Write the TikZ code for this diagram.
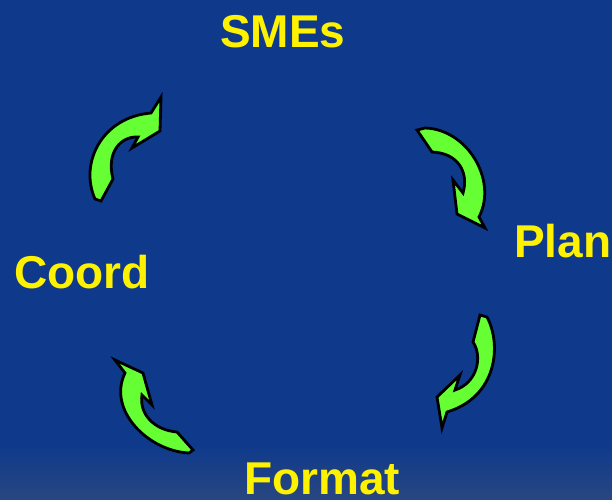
\documentclass[tikz,border=0pt]{standalone}
\usepackage{fontspec}
\setmainfont{Liberation Sans}
\usepackage{tikz}
\usetikzlibrary{shadings}
\definecolor{slidebg}{RGB}{15,58,140}
\definecolor{slidelow}{RGB}{40,70,128}
\definecolor{arrowgreen}{RGB}{102,255,51}

\begin{document}
\begin{tikzpicture}[x=1pt, y=-1pt,
  lbl/.style={text=yellow, font=\fontsize{46}{50}\selectfont\bfseries, inner sep=0pt, anchor=base west},
  cyclearrow/.style={fill=arrowgreen, draw=black, line width=2.8pt, line join=miter}]

 % background
 \fill[slidebg] (0,0) rectangle (612,499);
 \shade[top color=slidebg, bottom color=slidelow] (0,445) rectangle (612,499);
 \useasboundingbox (0,0) rectangle (612,499);

 % labels
 \node[lbl] (smes) at (220,47) {SMEs};
 \node[lbl] (plan) at (514,257) {Plan};
 \node[lbl] (coord) at (14,288) {Coord};
 \node[lbl] (format) at (244,494) {Format};

 % arrows
 \draw[cyclearrow] (95,199) .. controls (79,163) and (102,117) .. (151,113) -- (161,97) -- (160,131)
   -- (132,148) -- (138,137) .. controls (121,136) and (106,152) .. (113,179) -- (101,201) -- cycle;

 \draw[cyclearrow] (417,130) -- (425,128) .. controls (467,129) and (498,180) .. (479,217) -- (485,228)
   -- (457,214) -- (453,180) -- (463,193) .. controls (469,172) and (458,153) .. (432,152) -- cycle;

 \draw[cyclearrow] (480,315) -- (487,317) .. controls (502,345) and (497,397) .. (447,412) -- (442,428)
   -- (437,397) -- (460,375) -- (455,390) .. controls (477,383) and (483,357) .. (473,342) -- cycle;

 \draw[cyclearrow] (115,360) -- (143,373) -- (152,405) -- (142,395) .. controls (139,414) and (154,430) .. (177,432)
   -- (193,450) -- (189,453) .. controls (148,451) and (107,410) .. (125,373) -- cycle;

\end{tikzpicture}
\end{document}
